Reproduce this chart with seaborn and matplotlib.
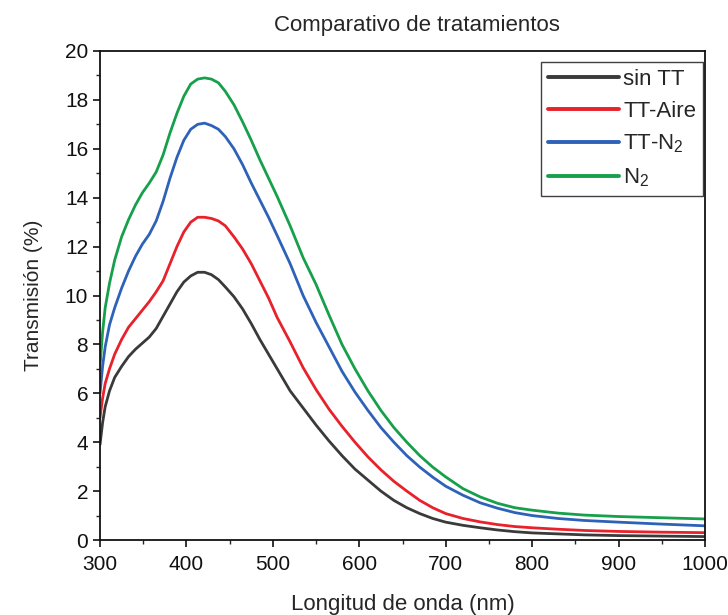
import matplotlib
matplotlib.use("Agg")
import matplotlib.pyplot as plt
import seaborn as sns
import pandas as pd
from matplotlib.ticker import MultipleLocator

wavelength = [300, 303, 306, 311, 317, 325, 333, 341, 349, 357, 365, 373, 381, 389,
              397, 405, 413, 421, 429, 437, 445, 455, 465, 475, 485, 495, 505, 520,
              535, 550, 565, 580, 595, 610, 625, 640, 655, 670, 685, 700, 720, 740,
              760, 780, 800, 830, 860, 900, 950, 1000]

sin_tt = [3.9, 4.8, 5.45, 6.1, 6.65, 7.1, 7.5, 7.8, 8.05, 8.3, 8.65, 9.15, 9.65, 10.15,
          10.55, 10.8, 10.95, 10.95, 10.85, 10.65, 10.35, 9.95, 9.45, 8.85, 8.2, 7.6,
          7.0, 6.1, 5.4, 4.7, 4.05, 3.45, 2.9, 2.45, 2.0, 1.62, 1.32, 1.08, 0.88,
          0.73, 0.6, 0.5, 0.41, 0.34, 0.29, 0.25, 0.21, 0.18, 0.16, 0.14]
tt_aire = [5.0, 5.8, 6.4, 7.0, 7.6, 8.2, 8.7, 9.05, 9.4, 9.75, 10.15, 10.6, 11.3, 12.0,
           12.6, 13.0, 13.2, 13.2, 13.15, 13.05, 12.85, 12.4, 11.9, 11.3, 10.6, 9.9,
           9.1, 8.1, 7.05, 6.15, 5.35, 4.65, 4.0, 3.4, 2.87, 2.4, 2.0, 1.62, 1.32,
           1.08, 0.88, 0.74, 0.63, 0.55, 0.5, 0.44, 0.39, 0.35, 0.32, 0.3]
tt_n2 = [6.0, 7.1, 7.9, 8.8, 9.5, 10.3, 11.0, 11.6, 12.1, 12.5, 13.05, 13.85, 14.8, 15.65,
         16.35, 16.8, 17.0, 17.05, 16.95, 16.8, 16.5, 16.0, 15.35, 14.6, 13.9, 13.2,
         12.45, 11.3, 10.0, 8.9, 7.9, 6.9, 6.05, 5.3, 4.6, 4.0, 3.45, 2.98, 2.57,
         2.2, 1.83, 1.52, 1.3, 1.12, 1.0, 0.88, 0.8, 0.73, 0.65, 0.58]
n2 = [7.1, 8.5, 9.5, 10.5, 11.45, 12.4, 13.1, 13.7, 14.2, 14.6, 15.05, 15.75, 16.65, 17.45,
      18.15, 18.65, 18.85, 18.9, 18.85, 18.7, 18.35, 17.8, 17.1, 16.35, 15.55, 14.8,
      14.05, 12.85, 11.55, 10.45, 9.2, 8.0, 7.0, 6.1, 5.3, 4.6, 4.0, 3.45, 2.98, 2.58,
      2.1, 1.76, 1.5, 1.32, 1.22, 1.1, 1.02, 0.96, 0.91, 0.86]

series_names = ["sin TT", "TT-Aire", "TT-N$_2$", "N$_2$"]
series_values = [sin_tt, tt_aire, tt_n2, n2]
colors = ["#3a3a3a", "#e8212b", "#2e62b8", "#17a04b"]

df = pd.concat(
    [pd.DataFrame({"x": wavelength, "y": vals, "serie": name})
     for name, vals in zip(series_names, series_values)],
    ignore_index=True,
)

sns.set_style("ticks")
plt.rcParams["font.family"] = ["Liberation Sans", "DejaVu Sans"]
plt.rcParams["mathtext.fontset"] = "custom"
plt.rcParams["mathtext.rm"] = "Liberation Sans"
plt.rcParams["mathtext.it"] = "Liberation Sans"

fig = plt.figure(figsize=(7.28, 6.15), dpi=100)
ax = fig.add_axes([100 / 728, 1 - 540 / 615, 605 / 728, 489 / 615])

sns.lineplot(data=df, x="x", y="y", hue="serie", hue_order=series_names,
             palette=colors, linewidth=2.0, ax=ax, sort=True)

ax.set_xlim(300, 1000)
ax.set_ylim(0, 20)
ax.xaxis.set_major_locator(MultipleLocator(100))
ax.xaxis.set_minor_locator(MultipleLocator(50))
ax.yaxis.set_major_locator(MultipleLocator(2))
ax.yaxis.set_minor_locator(MultipleLocator(1))
ax.tick_params(axis="both", which="major", direction="out", length=5, width=1.2,
               labelsize=15, colors="#111111", top=False, right=False)
ax.tick_params(axis="x", which="major", pad=6)
ax.tick_params(axis="both", which="minor", direction="out", length=3, width=1.0,
               top=False, right=False)
for sp in ax.spines.values():
    sp.set_visible(True)
    sp.set_linewidth(1.3)
    sp.set_color("#111111")

ax.set_xlabel("Longitud de onda (nm)", fontsize=16, labelpad=14)
ax.set_ylabel("Transmisión (%)", fontsize=15, labelpad=16)
fig.text(417 / 728, 1 - 25 / 615, "Comparativo de tratamientos", fontsize=16,
         ha="center", va="center")

leg = ax.legend(loc="upper right", bbox_to_anchor=(0.9967, 0.9775), fontsize=16,
                frameon=True, fancybox=False, edgecolor="#111111", handlelength=3.2,
                handletextpad=0.2, borderpad=0.3, labelspacing=0.5,
                borderaxespad=0.0, title=None)
leg.get_frame().set_linewidth(1.0)
for line in leg.get_lines():
    line.set_linewidth(2.8)

fig.savefig("out.png", dpi=100)
